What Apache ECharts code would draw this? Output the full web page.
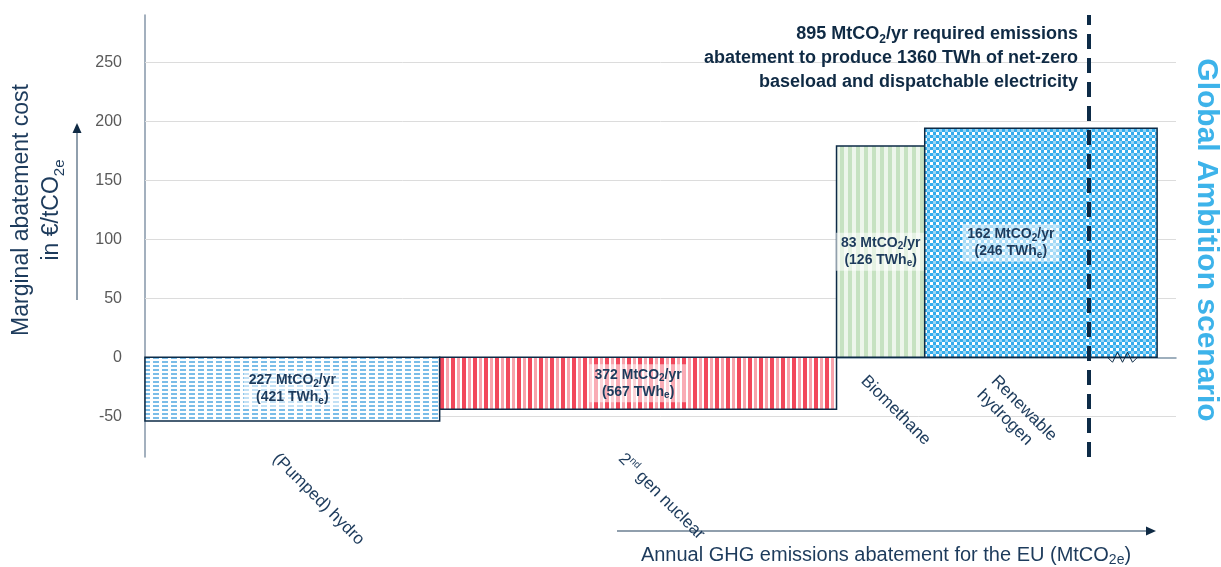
<!DOCTYPE html>
<html>
<head>
<meta charset="utf-8">
<style>
html, body { margin: 0; padding: 0; background: #fff; }
#chart { width: 1221px; height: 567px; }
</style>
<script src="https://cdn.jsdelivr.net/npm/echarts@6/dist/echarts.min.js"></script>
</head>
<body>
<div id="chart"></div>
<script>
// technologies in merit order (cheapest first)
var techNames = ['(Pumped) hydro', '2nd gen nuclear', 'Biomethane', 'Renewable\nhydrogen'];
var abatementMt = [227, 372, 83, 162];   // MtCO2/yr
var energyTWh = [421, 567, 126, 246];    // bar width
var costEur = [-54, -44, 179, 194];      // €/tCO2e, bar height
var drawnTWh = [421, 567, 126, 332];     // hydrogen bar is drawn past the cut (zigzag)
var yTicks = [-50, 0, 50, 100, 150, 200, 250];
var requiredMt = 895;
var requiredTWh = 1360;
var cutoffTWh = 1348;                    // where the dashed line sits in the picture
var yMin = -84.5, yMax = 290, xMax = 1473;

var FONT = '"Liberation Sans", Arial, sans-serif';
var NAVY = '#1d3b5c';

function tile(w, h, draw) {
    var c = document.createElement('canvas');
    c.width = w; c.height = h;
    draw(c.getContext('2d'));
    return { image: c, repeat: 'repeat' };
}
var fills = [
    tile(9, 4, function (g) {
        g.fillStyle = '#ffffff'; g.fillRect(0, 0, 9, 4);
        g.fillStyle = '#7abde8'; g.fillRect(0, 1, 6, 2);
    }),
    tile(11, 8, function (g) {
        g.fillStyle = '#ffffff'; g.fillRect(0, 0, 11, 8);
        g.fillStyle = '#f2475b'; g.fillRect(0, 0, 4, 8);
        g.fillStyle = '#f8a3ac'; g.fillRect(6, 0, 3, 8);
    }),
    tile(8, 8, function (g) {
        g.fillStyle = '#edf6eb'; g.fillRect(0, 0, 8, 8);
        g.fillStyle = '#c6e2c1'; g.fillRect(0, 0, 4, 8);
    }),
    tile(6, 6, function (g) {
        g.fillStyle = '#34acec'; g.fillRect(0, 0, 6, 6);
        g.fillStyle = '#ffffff'; g.fillRect(0, 0, 3, 3);
        g.fillStyle = '#98d5f6'; g.fillRect(3, 3, 3, 3);
    })
];

// [start, drawn end, cost, label centre]
var barData = [];
var acc = 0;
techNames.forEach(function (name, i) {
    barData.push([acc, acc + drawnTWh[i], costEur[i], acc + energyTWh[i] / 2]);
    acc += energyTWh[i];
});

var subRich = {
    s: { fontSize: 10, fontWeight: 'bold', fontFamily: FONT, fill: NAVY, lineHeight: 9, verticalAlign: 'bottom' }
};

function renderBar(params, api) {
    var i = params.dataIndex;
    var x0 = api.value(0), x1 = api.value(1), v = api.value(2), xm = api.value(3);
    var pTop = api.coord([x0, Math.max(v, 0)]);
    var pBot = api.coord([x1, Math.min(v, 0)]);
    var pm = api.coord([xm, v / 2]);
    var zeroY = api.coord([0, 0])[1];
    var axisBottom = api.coord([0, yMin])[1];
    var name = techNames[i].replace(/^2nd/, '2{sup|nd}');
    return {
        type: 'group',
        children: [{
            type: 'rect',
            shape: { x: pTop[0], y: pTop[1], width: pBot[0] - pTop[0], height: pBot[1] - pTop[1] },
            style: { fill: fills[i], stroke: '#0d2b47', lineWidth: 1.5 }
        }, {
            type: 'text',
            x: pm[0], y: pm[1],
            style: {
                text: abatementMt[i] + ' MtCO{s|2}/yr\n(' + energyTWh[i] + ' TWh{s|e})',
                rich: subRich,
                font: 'bold 14px ' + FONT,
                fill: NAVY,
                lineHeight: 17,
                align: 'center', verticalAlign: 'middle',
                textAlign: 'center', textVerticalAlign: 'middle',
                backgroundColor: 'rgba(255,255,255,0.55)',
                padding: [2, 5]
            }
        }, {
            type: 'text',
            x: pm[0] - 10,
            y: v < 0 ? axisBottom - 8 : zeroY + 14,
            rotation: -Math.PI / 4,
            style: {
                text: name,
                rich: { sup: { fontSize: 10, fontFamily: FONT, fill: NAVY, lineHeight: 12, verticalAlign: 'top' } },
                font: '17px ' + FONT,
                fill: NAVY,
                lineHeight: 20,
                align: 'left', verticalAlign: 'top',
                textAlign: 'left', textVerticalAlign: 'top'
            }
        }]
    };
}

var chart = echarts.init(document.getElementById('chart'));
var option = {
    animation: false,
    textStyle: { fontFamily: FONT },
    grid: { left: 145, right: 45, top: 15, bottom: 110, containLabel: false },
    xAxis: {
        type: 'value', min: 0, max: xMax,
        axisLine: { show: true, onZero: true, lineStyle: { color: '#7f95a8', width: 1.5 } },
        axisTick: { show: false },
        axisLabel: { show: false },
        splitLine: { show: false }
    },
    yAxis: {
        type: 'value', min: yMin, max: yMax,
        axisLine: { show: true, lineStyle: { color: '#8496a9', width: 1.5 } },
        axisTick: { show: false },
        axisLabel: { customValues: yTicks, color: '#595959', fontSize: 16, margin: 23, fontFamily: FONT },
        splitLine: { show: false }
    },
    series: [{
        type: 'line', data: [], z: 1, silent: true,
        markLine: {
            z: 1, silent: true, symbol: 'none', label: { show: false },
            lineStyle: { color: '#dcdcdc', width: 1, type: 'solid' },
            data: yTicks.filter(function (t) { return t !== 0; }).map(function (t) { return { yAxis: t }; })
        }
    }, {
        type: 'custom', z: 3, silent: true,
        renderItem: renderBar,
        data: barData,
        encode: { x: [0, 1], y: 2 }
    }, {
        type: 'line', data: [], z: 6, silent: true,
        markLine: {
            z: 6, silent: true, symbol: 'none', label: { show: false },
            lineStyle: { color: '#0d2b47', width: 4, type: [15, 9] },
            data: [{ xAxis: cutoffTWh }]
        }
    }]
};
chart.setOption(option);

// zigzag break mark on the hydrogen bar, just right of the cut
var cut = chart.convertToPixel({ gridIndex: 0 }, [cutoffTWh, 0]);
var zx = cut[0] + 19, zy = cut[1];
var zig = [[zx, zy]];
for (var k = 1; k <= 6; k++) zig.push([zx + k * 5, zy + (k === 6 ? 0 : (k % 2 ? 5 : -5))]);

chart.setOption({
    graphic: [{
        type: 'polyline', z: 10, silent: true,
        shape: { points: zig },
        style: { stroke: '#0d2b47', lineWidth: 1, fill: null }
    }, {
        type: 'text', x: 1078, y: 22, z: 10,
        style: {
            text: requiredMt + ' MtCO{s|2}/yr required emissions\nabatement to produce ' + requiredTWh +
                ' TWh of net-zero\nbaseload and dispatchable electricity',
            rich: { s: { fontSize: 12, fontWeight: 'bold', fontFamily: FONT, fill: '#0f2a44', lineHeight: 12, verticalAlign: 'bottom' } },
            font: 'bold 18px ' + FONT, fill: '#0f2a44', lineHeight: 24,
            align: 'right', verticalAlign: 'top', textAlign: 'right', textVerticalAlign: 'top'
        }
    }, {
        type: 'text', x: 37, y: 210, rotation: Math.PI / 2,
        style: {
            text: 'Marginal abatement cost\nin €/tCO{s|2e}',
            rich: { s: { fontSize: 15, fontFamily: FONT, fill: NAVY, lineHeight: 12, verticalAlign: 'bottom' } },
            font: '23px ' + FONT, fill: NAVY, lineHeight: 30,
            align: 'center', verticalAlign: 'middle', textAlign: 'center', textVerticalAlign: 'middle'
        }
    }, {
        type: 'line', shape: { x1: 77, y1: 300, x2: 77, y2: 130 },
        style: { stroke: '#6b7f92', lineWidth: 1.5 }
    }, {
        type: 'polygon', shape: { points: [[77, 123], [72.5, 133], [81.5, 133]] },
        style: { fill: '#0f2a44' }
    }, {
        type: 'line', shape: { x1: 617, y1: 531, x2: 1148, y2: 531 },
        style: { stroke: '#6b7f92', lineWidth: 1.5 }
    }, {
        type: 'polygon', shape: { points: [[1156, 531], [1146, 526.5], [1146, 535.5]] },
        style: { fill: '#0f2a44' }
    }, {
        type: 'text', x: 886, y: 555,
        style: {
            text: 'Annual GHG emissions abatement for the EU (MtCO{s|2e})',
            rich: { s: { fontSize: 14, fontFamily: FONT, fill: NAVY, lineHeight: 11, verticalAlign: 'bottom' } },
            font: '20px ' + FONT, fill: NAVY, lineHeight: 24,
            align: 'center', verticalAlign: 'middle', textAlign: 'center', textVerticalAlign: 'middle'
        }
    }, {
        type: 'text', x: 1206, y: 240, rotation: -Math.PI / 2,
        style: {
            text: 'Global Ambition scenario',
            font: 'bold 30px ' + FONT, fill: '#3db3ea',
            align: 'center', verticalAlign: 'middle', textAlign: 'center', textVerticalAlign: 'middle'
        }
    }]
});

window.addEventListener('resize', function () { chart.resize(); });
</script>
</body>
</html>
